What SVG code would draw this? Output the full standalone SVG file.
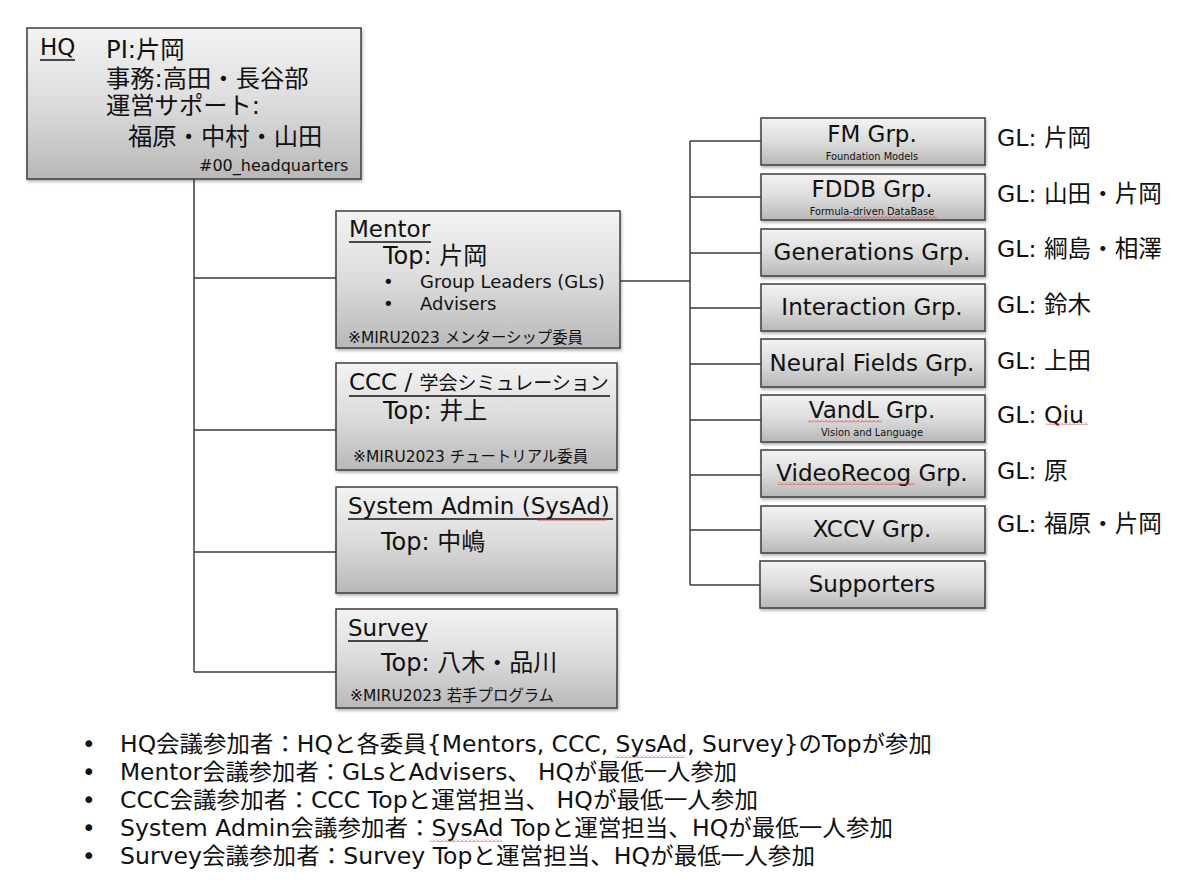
<svg xmlns="http://www.w3.org/2000/svg" width="1200" height="883" viewBox="0 0 1200 883">
<defs>
<linearGradient id="g" x1="0" y1="0" x2="0" y2="1">
<stop offset="0" stop-color="#f3f3f3"/>
<stop offset="0.5" stop-color="#dcdcdc"/>
<stop offset="1" stop-color="#b8b8b8"/>
</linearGradient>
<filter id="sh" x="-5%" y="-5%" width="110%" height="120%">
<feDropShadow dx="1" dy="2" stdDeviation="1.5" flood-color="#000" flood-opacity="0.3"/>
</filter>
<pattern id="wv" width="4" height="3" patternUnits="userSpaceOnUse">
<path d="M0 2.5L2 0.5L4 2.5" stroke="#e03030" stroke-width="0.8" fill="none"/>
</pattern>
</defs>
<style>
text{font-family:"DejaVu Sans","Noto Sans CJK JP",sans-serif;fill:#111}
.box{fill:url(#g);stroke:#3c3c3c;stroke-width:1.5;filter:url(#sh)}
.ln{stroke:#3c3c3c;stroke-width:1.5;fill:none}
.hq{font-size:24.3px}
.ti{font-size:23px}
.tp{font-size:24px}
.t18{font-size:18px}
.t15{font-size:15.4px}
.grp{font-size:23px;text-anchor:middle}
.sub{font-size:9.8px;text-anchor:middle}
.gl{font-size:23.6px}
.bl{font-size:23px}
.ul{stroke:#111;stroke-width:1.3}
</style>
<rect width="1200" height="883" fill="#fff"/>
<g id="connectors">
<path class="ln" d="M194 179V672M194 278H336M194 430H336M194 552H336M194 672H336"/>
<path class="ln" d="M620 281H690M690 141V585M690 141H761M690 197H761M690 253H761M690 308H761M690 364H761M690 420H761M690 475H761M690 530H761M690 585H760"/>
</g>
<g id="hq">
<rect class="box" x="27" y="28" width="334" height="151"/>
<text class="ti" x="40" y="55">HQ</text>
<line class="ul" x1="40" y1="60" x2="75" y2="60"/>
<text class="hq" x="106" y="58">PI:片岡</text>
<text class="hq" x="106" y="87">事務:高田・長谷部</text>
<text class="hq" x="106" y="114">運営サポート:</text>
<text class="hq" x="128" y="145">福原・中村・山田</text>
<text style="font-size:16px" x="199" y="171">#00_headquarters</text>
</g>
<g id="mentor">
<rect class="box" x="336" y="211" width="284" height="137"/>
<text class="ti" x="349" y="237">Mentor</text>
<line class="ul" x1="349" y1="242" x2="431" y2="242"/>
<text class="tp" x="383" y="264">Top: 片岡</text>
<text class="t18" x="383" y="288">•</text>
<text class="t18" x="420" y="288">Group Leaders (GLs)</text>
<text class="t18" x="383" y="310">•</text>
<text class="t18" x="420" y="310">Advisers</text>
<text class="t15" x="348" y="343">※MIRU2023 メンターシップ委員</text>
</g>
<g id="ccc">
<rect class="box" x="336" y="363" width="281" height="107"/>
<text x="349" y="390"><tspan class="ti">CCC / </tspan><tspan style="font-size:19px">学会シミュレーション</tspan></text>
<line class="ul" x1="349" y1="396" x2="610" y2="396"/>
<text class="tp" x="383" y="419">Top: 井上</text>
<text class="t15" x="353" y="462">※MIRU2023 チュートリアル委員</text>
</g>
<g id="sysad">
<rect class="box" x="336" y="487" width="281" height="106"/>
<text class="ti" x="348" y="514">System Admin (SysAd)</text>
<line class="ul" x1="348" y1="519" x2="613" y2="519"/>
<rect x="537" y="518" width="70" height="3" fill="url(#wv)"/>
<text class="tp" x="381" y="550">Top: 中嶋</text>
</g>
<g id="survey">
<rect class="box" x="336" y="609" width="281" height="99"/>
<text class="ti" x="348" y="636">Survey</text>
<line class="ul" x1="348" y1="641" x2="428" y2="641"/>
<text class="tp" x="381" y="671">Top: 八木・品川</text>
<text class="t15" x="350" y="701">※MIRU2023 若手プログラム</text>
</g>
<g id="fm">
<rect class="box" x="761" y="118" width="224" height="47"/>
<text class="grp" x="872" y="142">FM Grp.</text>
<text class="sub" x="872" y="160">Foundation Models</text>
<text class="gl" x="997" y="146">GL: 片岡</text>
</g>
<g id="fddb">
<rect class="box" x="761" y="174" width="224" height="46"/>
<text class="grp" x="872" y="197">FDDB Grp.</text>
<text class="sub" x="872" y="215">Formula-driven DataBase</text>
<rect x="843" y="216" width="94" height="3" fill="url(#wv)"/>
<text class="gl" x="997" y="202">GL: 山田・片岡</text>
</g>
<g id="generations">
<rect class="box" x="761" y="229" width="224" height="47"/>
<text class="grp" x="872" y="260">Generations Grp.</text>
<text class="gl" x="997" y="257">GL: 綱島・相澤</text>
</g>
<g id="interaction">
<rect class="box" x="761" y="284" width="224" height="47"/>
<text class="grp" x="872" y="315">Interaction Grp.</text>
<text class="gl" x="997" y="313">GL: 鈴木</text>
</g>
<g id="neural">
<rect class="box" x="761" y="339" width="224" height="48"/>
<text class="grp" x="872" y="371">Neural Fields Grp.</text>
<text class="gl" x="997" y="369">GL: 上田</text>
</g>
<g id="vandl">
<rect class="box" x="761" y="395" width="224" height="47"/>
<text class="grp" x="872" y="418">VandL Grp.</text>
<rect x="808" y="420" width="74" height="3" fill="url(#wv)"/>
<text class="sub" x="872" y="436">Vision and Language</text>
<text class="gl" x="997" y="423">GL: Qiu</text>
<rect x="1046" y="422" width="42" height="3" fill="url(#wv)"/>
</g>
<g id="videorecog">
<rect class="box" x="761" y="450" width="224" height="47"/>
<text class="grp" x="872" y="481">VideoRecog Grp.</text>
<rect x="778" y="482" width="137" height="3" fill="url(#wv)"/>
<text class="gl" x="997" y="479">GL: 原</text>
</g>
<g id="xccv">
<rect class="box" x="761" y="506" width="224" height="47"/>
<text class="grp" x="872" y="537">XCCV Grp.</text>
<text class="gl" x="997" y="532">GL: 福原・片岡</text>
</g>
<g id="supporters">
<rect class="box" x="760" y="561" width="225" height="47"/>
<text class="grp" x="872" y="592">Supporters</text>
</g>
<g id="notes">
<text class="bl" x="82" y="752">•</text>
<text class="bl" x="120" y="752" textLength="812" lengthAdjust="spacingAndGlyphs">HQ会議参加者：HQと各委員{Mentors, CCC, SysAd, Survey}のTopが参加</text>
<rect x="615" y="755" width="70" height="3" fill="url(#wv)"/>
<text class="bl" x="82" y="780">•</text>
<text class="bl" x="120" y="780" textLength="617" lengthAdjust="spacingAndGlyphs">Mentor会議参加者：GLsとAdvisers、 HQが最低一人参加</text>
<text class="bl" x="82" y="808">•</text>
<text class="bl" x="120" y="808" textLength="638" lengthAdjust="spacingAndGlyphs">CCC会議参加者：CCC Topと運営担当、 HQが最低一人参加</text>
<text class="bl" x="82" y="836">•</text>
<text class="bl" x="120" y="836" textLength="773" lengthAdjust="spacingAndGlyphs">System Admin会議参加者：SysAd Topと運営担当、HQが最低一人参加</text>
<rect x="430" y="839" width="72" height="3" fill="url(#wv)"/>
<text class="bl" x="82" y="864">•</text>
<text class="bl" x="120" y="864" textLength="695" lengthAdjust="spacingAndGlyphs">Survey会議参加者：Survey Topと運営担当、HQが最低一人参加</text>
</g>
</svg>
